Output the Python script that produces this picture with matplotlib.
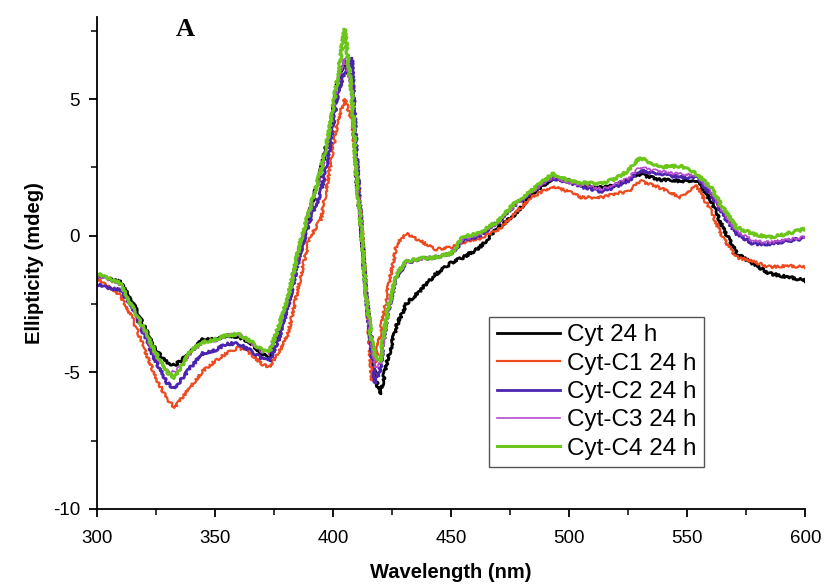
import matplotlib
matplotlib.use('Agg')
import matplotlib.pyplot as plt
from matplotlib.ticker import MultipleLocator

# *** Data *** #
wavelength = [300, 305, 310, 315, 320, 325, 330, 333, 340, 345, 350, 355, 360, 365, 370, 373,
              377, 381, 386, 390, 395, 399, 402, 405, 408, 410, 412, 414, 416.5, 418, 420, 423,
              427, 431, 437, 443, 450, 455, 462, 470, 478, 484, 493, 500, 505, 514, 520, 525,
              530, 538, 547, 554, 560, 565, 571, 578, 585, 592, 600]

cyt = [-1.5, -1.55, -1.7, -2.4, -3.3, -4.2, -4.65, -4.75, -4.25, -3.8, -3.8, -3.65, -3.7, -3.9, -4.35, -4.45,
       -3.6, -2.4, -0.5, 0.8, 2.4, 4.0, 5.6, 6.4, 5.6, 2.1, 0.3, -2.1, -4.0, -5.2, -5.8, -4.6,
       -3.3, -2.5, -2.0, -1.45, -1.0, -0.8, -0.45, 0.3, 0.85, 1.5, 2.1, 2.0, 1.85, 1.75, 1.85, 2.05,
       2.25, 2.05, 2.0, 2.0, 1.28, 0.3, -0.67, -1.03, -1.39, -1.5, -1.64]

cyt_c1 = [-1.6, -1.85, -2.2, -3.0, -4.1, -5.2, -6.0, -6.3, -5.5, -4.95, -4.6, -4.3, -4.1, -4.3, -4.7, -4.8,
          -4.3, -3.6, -1.65, -0.1, 0.6, 2.6, 4.2, 5.0, 4.2, 2.5, 0.6, -2.0, -5.3, -4.6, -3.6, -2.1,
          -0.3, 0.07, -0.18, -0.5, -0.44, -0.25, -0.1, 0.2, 0.9, 1.4, 1.82, 1.6, 1.4, 1.4, 1.55, 1.6,
          2.0, 1.77, 1.4, 1.82, 0.9, -0.07, -0.8, -0.95, -1.15, -1.1, -1.15]

cyt_c2 = [-1.8, -1.9, -2.0, -2.6, -3.6, -4.6, -5.4, -5.6, -4.8, -4.3, -4.2, -3.95, -3.95, -4.2, -4.5, -4.6,
          -3.8, -2.6, -0.7, 0.5, 1.6, 3.4, 5.2, 6.0, 6.5, 3.0, 0.4, -2.1, -4.3, -5.4, -4.9, -2.9,
          -1.5, -1.0, -0.85, -0.8, -0.66, -0.2, 0.0, 0.5, 1.2, 1.6, 2.1, 1.95, 1.8, 1.6, 1.8, 2.0,
          2.37, 2.26, 2.13, 2.13, 1.5, 0.78, 0.06, -0.3, -0.3, -0.2, -0.09]

cyt_c3 = [-1.5, -1.6, -1.8, -2.6, -3.5, -4.4, -4.95, -5.0, -4.3, -3.9, -3.85, -3.65, -3.6, -3.9, -4.25, -4.3,
          -3.4, -2.3, -0.35, 0.85, 2.3, 4.0, 5.6, 6.5, 5.4, 2.1, 0.3, -2.1, -4.0, -4.8, -4.7, -2.8,
          -1.4, -0.95, -0.85, -0.8, -0.66, -0.15, 0.05, 0.5, 1.2, 1.6, 2.15, 1.95, 1.85, 1.7, 1.9, 2.1,
          2.5, 2.35, 2.25, 2.2, 1.6, 0.85, 0.15, -0.2, -0.25, -0.15, -0.05]

cyt_c4 = [-1.4, -1.55, -1.75, -2.6, -3.4, -4.3, -5.0, -5.2, -4.2, -3.9, -3.8, -3.65, -3.6, -3.85, -4.2, -4.27,
          -3.35, -2.26, -0.3, 0.9, 2.4, 4.1, 5.8, 7.55, 5.2, 2.1, 0.3, -2.1, -3.9, -4.4, -4.6, -2.74,
          -1.4, -0.95, -0.84, -0.8, -0.66, -0.06, 0.1, 0.55, 1.28, 1.64, 2.26, 2.0, 1.93, 1.9, 2.1, 2.37,
          2.86, 2.5, 2.55, 2.26, 1.77, 1.03, 0.3, 0.06, -0.06, 0.06, 0.25]

labels = ['Cyt 24 h', 'Cyt-C1 24 h', 'Cyt-C2 24 h', 'Cyt-C3 24 h', 'Cyt-C4 24 h']
series = [cyt, cyt_c1, cyt_c2, cyt_c3, cyt_c4]
line_colors = ['#000000', '#ee4a1f', '#4b24b0', '#b54ccc', '#6cc51a']
line_widths = [2.0, 1.6, 2.0, 1.2, 2.2]

plt.rcParams['font.family'] = ['Liberation Sans', 'DejaVu Sans']
plt.rcParams['axes.unicode_minus'] = False

fig = plt.figure(figsize=(8.26, 5.87), dpi=100)
ax = fig.add_axes([0.117, 0.133, 0.858, 0.838])

for vals, lab, col, lw in zip(series, labels, line_colors, line_widths):
    ln, = ax.plot(wavelength, vals, color=col, lw=lw, label=lab)
    ln.set_sketch_params(1.3, 3, 12) # mimic the spectral noise

ax.set_xlim(300, 600)
ax.set_ylim(-10, 8)
ax.xaxis.set_major_locator(MultipleLocator(50))
ax.xaxis.set_minor_locator(MultipleLocator(25))
ax.yaxis.set_major_locator(MultipleLocator(5))
ax.yaxis.set_minor_locator(MultipleLocator(2.5))

ax.spines['top'].set_visible(False)
ax.spines['right'].set_visible(False)
ax.spines['left'].set_linewidth(1.3)
ax.spines['bottom'].set_linewidth(1.3)
ax.tick_params(which='major', direction='out', length=6, width=1.3, labelsize=13.5)
ax.tick_params(axis='x', which='major', pad=9)
ax.tick_params(axis='y', which='major', pad=6)
ax.tick_params(which='minor', direction='out', length=4, width=1.1)

ax.set_xlabel('Wavelength (nm)', fontsize=14.5, fontweight='bold', labelpad=12)
ax.set_ylabel('Ellipticity (mdeg)', fontsize=14.5, fontweight='bold', labelpad=6)

ax.text(0.125, 0.975, 'A', transform=ax.transAxes, ha='center', va='center',
        fontsize=19, fontweight='bold', family='Liberation Serif')

leg = ax.legend(loc='upper left', bbox_to_anchor=(0.554, 0.39), borderaxespad=0,
                fontsize=17.5, fancybox=False, framealpha=1, edgecolor='#555555',
                handlelength=2.6, handletextpad=0.3, labelspacing=0.26, borderpad=0.3)
leg.get_frame().set_linewidth(1.0)
for h in leg.get_lines():
    h.set_sketch_params(None)

fig.savefig('out.png', dpi=100)
